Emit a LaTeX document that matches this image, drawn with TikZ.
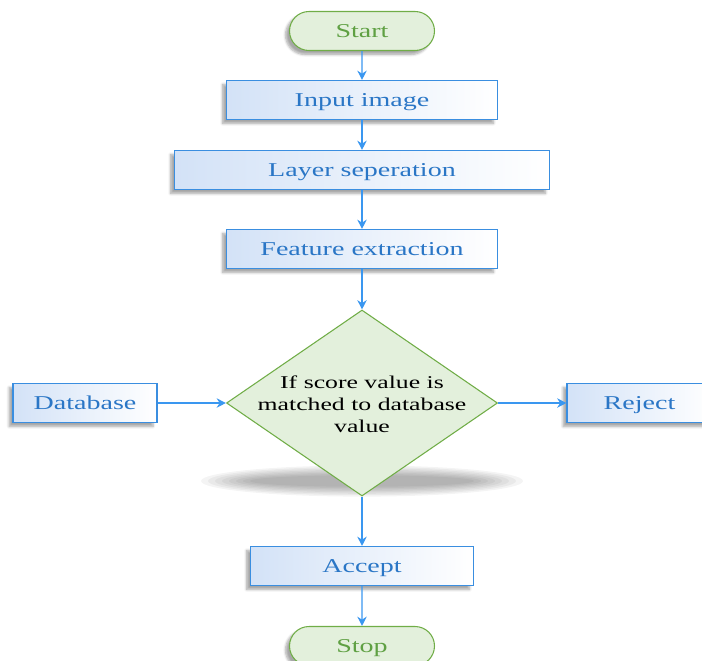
\documentclass[tikz,border=0pt]{standalone}
\usepackage{fontspec}
\setmainfont{Liberation Serif}[FakeStretch=1.43]
\usetikzlibrary{shapes.geometric,shapes.misc,arrows.meta,shadows.blur}
\definecolor{boxblue}{HTML}{3A8EE0}
\definecolor{boxfill}{HTML}{D3E2F7}
\definecolor{textblue}{HTML}{2A76C6}
\definecolor{arrowblue}{HTML}{3A97F0}
\definecolor{termfill}{HTML}{E3F0DC}
\definecolor{termline}{HTML}{70AD47}
\definecolor{termtext}{HTML}{5FA043}
\tikzset{
  procbox/.style={draw=boxblue, line width=0.8pt, left color=boxfill, right color=white,
    text=textblue, minimum height=29.25pt, inner sep=0pt,
    font=\fontsize{14.7}{17}\selectfont, text height=1.2em, text depth=0.2em,
    blur shadow={shadow xshift=-3pt, shadow yshift=-3pt, shadow opacity=35, shadow blur steps=6}},
  termbox/.style={draw=termline, line width=0.8pt, fill=termfill, text=termtext,
    rounded rectangle, minimum width=108.75pt, minimum height=29.25pt, inner sep=0pt,
    font=\fontsize{14.7}{17}\selectfont, text height=1.2em, text depth=0.2em,
    blur shadow={shadow xshift=-3pt, shadow yshift=-3pt, shadow opacity=35, shadow blur steps=6}},
  decbox/.style={draw=termline, line width=0.8pt, fill=termfill, diamond,
    minimum width=203.25pt, minimum height=139.5pt, inner sep=0pt},
  flow/.style={draw=arrowblue, line width=1pt, -{Stealth[length=7pt,width=7pt]}}
}
\begin{document}
\begin{tikzpicture}[x=0.75pt,y=-0.75pt]
\useasboundingbox (0,0) rectangle (702,660);
% diamond shadow
\foreach \i in {1,...,8}{
  \fill[black, opacity=0.045] (362,481) ellipse ({168-7*\i} and {17-1.4*\i});
}
\node[termbox] (start) at (362,31) {Start};
\node[procbox, minimum width=203.25pt] (input) at (362,100) {Input image};
\node[procbox, minimum width=281.25pt] (layer) at (362,170) {Layer seperation};
\node[procbox, minimum width=203.25pt] (feat) at (362,249) {Feature extraction};
\node[decbox] (dec) at (362,403) {};
\node[align=center, font=\fontsize{13.5}{16.5}\selectfont] (dectext) at (362,404)
  {If score value is\\matched to database\\value};
\node[procbox, minimum width=108pt] (db) at (85,403) {Database};
\node[procbox, minimum width=108.75pt] (rej) at (639.5,403) {Reject};
\node[procbox, minimum width=167.25pt] (acc) at (362,566) {Accept};
\node[termbox] (stop) at (362,646) {Stop};
\draw[flow] (start) -- (input);
\draw[flow] (input) -- (layer);
\draw[flow] (layer) -- (feat);
\draw[flow] (feat) -- (dec.north);
\draw[flow] (db) -- (dec.west);
\draw[flow] (dec.east) -- (rej);
\draw[flow] (dec.south) -- (acc);
\draw[flow] (acc) -- (stop);
\end{tikzpicture}
\end{document}
